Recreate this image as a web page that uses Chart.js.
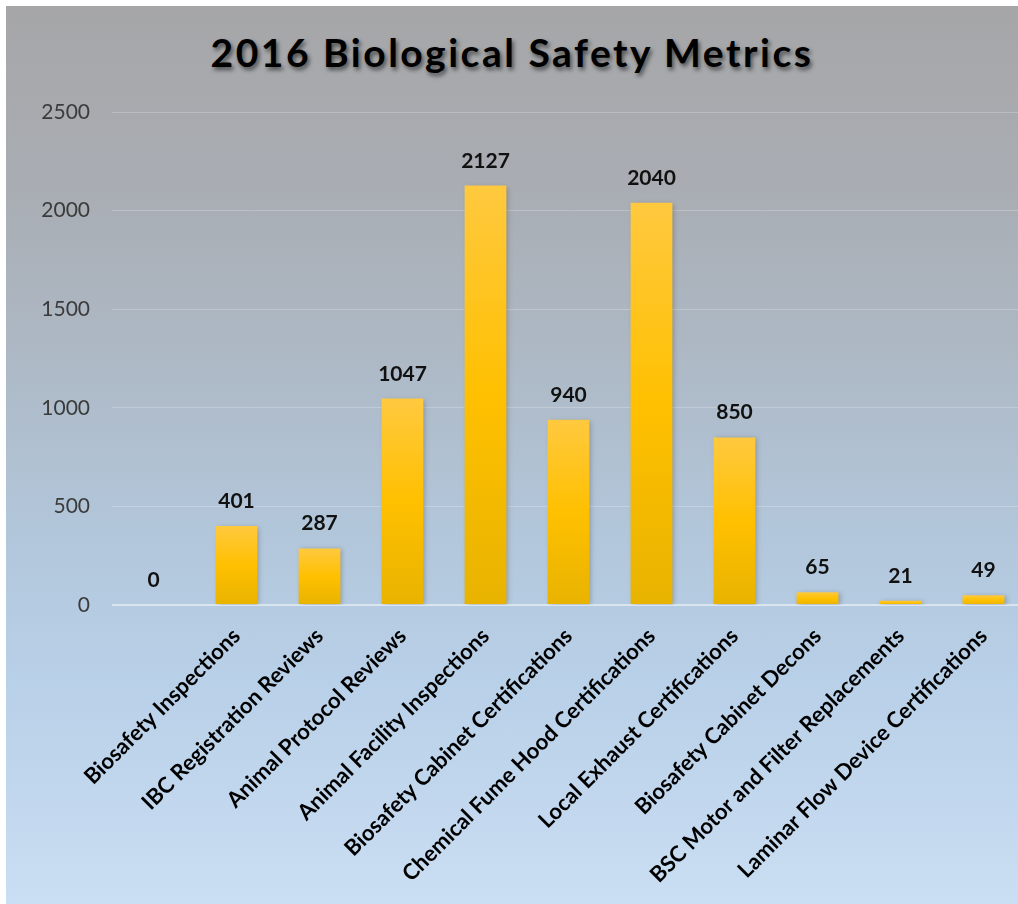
<!DOCTYPE html>
<html>
<head>
<meta charset="utf-8">
<script src="https://cdn.jsdelivr.net/npm/chart.js@4.4.0/dist/chart.umd.min.js"></script>
<style>
  html, body { margin: 0; padding: 0; background: #fff; }
  #wrap {
    position: absolute; left: 6px; top: 6px; width: 1012px; height: 898px;
    overflow: hidden;
    background: linear-gradient(to bottom, #a6a6a8 0%, #a9adb3 20%, #adb8c4 38%, #b2c6da 58%, #b8d0e8 75%, #c3d8ee 90%, #cadff3 100%);
  }
  #title {
    position: absolute; left: 0; width: 1012px; top: 23px;
    text-align: center; font-family: Lato, sans-serif; font-weight: bold;
    font-size: 39px; line-height: 46px; letter-spacing: 2.5px; color: #000;
    text-shadow: 2px 3px 4px rgba(0,0,0,0.55);
  }
  #box { position: absolute; left: 0; top: 0; width: 1030px; height: 898px; }
</style>
</head>
<body>
<div id="wrap">
  <div id="title">2016 Biological Safety Metrics</div>
  <div id="box"><canvas id="safetyChart"></canvas></div>
</div>
<script>
// Chart data
const categories = ['', 'Biosafety Inspections', 'IBC Registration Reviews', 'Animal Protocol Reviews',
  'Animal Facility Inspections', 'Biosafety Cabinet Certifications', 'Chemical Fume Hood Certifications',
  'Local Exhaust Certifications', 'Biosafety Cabinet Decons', 'BSC Motor and Filter Replacements',
  'Laminar Flow Device Certifications'];
const counts = [0, 401, 287, 1047, 2127, 940, 2040, 850, 65, 21, 49];
const yTicks = [0, 500, 1000, 1500, 2000, 2500];

// gold gradient per bar, from its top down to the baseline
function barFill(context) {
  const chart = context.chart;
  if (!chart.chartArea) return '#ffc000';
  const y = chart.scales.y;
  const top = y.getPixelForValue(context.raw);
  const base = y.getPixelForValue(0);
  if (base - top < 1) return '#ffc83a';
  const g = chart.ctx.createLinearGradient(0, top, 0, base);
  g.addColorStop(0, '#ffc93f');
  g.addColorStop(0.5, '#ffc000');
  g.addColorStop(1, '#e8b300');
  return g;
}

// small shadow behind the bars
const barShadow = {
  id: 'barShadow',
  beforeDatasetsDraw(chart) {
    const c = chart.ctx;
    c.save();
    c.shadowColor = 'rgba(60,60,60,0.35)';
    c.shadowBlur = 5;
    c.shadowOffsetX = 2;
    c.shadowOffsetY = 1;
  },
  afterDatasetsDraw(chart) {
    chart.ctx.restore();
  }
};

// value labels above bars
const valueLabels = {
  id: 'valueLabels',
  afterDatasetsDraw(chart) {
    const c = chart.ctx;
    const meta = chart.getDatasetMeta(0);
    c.save();
    c.font = 'bold 21px Lato, sans-serif';
    c.fillStyle = '#111';
    c.textAlign = 'center';
    c.textBaseline = 'alphabetic';
    meta.data.forEach((bar, i) => {
      c.fillText(String(counts[i]), bar.x, bar.y - 18);
    });
    c.restore();
  }
};

const ctx = document.getElementById('safetyChart').getContext('2d');
new Chart(ctx, {
  type: 'bar',
  data: {
    labels: categories,
    datasets: [{
      data: counts,
      backgroundColor: barFill,
      borderWidth: 0,
      barPercentage: 0.503,
      categoryPercentage: 1.0
    }]
  },
  options: {
    responsive: true,
    maintainAspectRatio: false,
    animation: false,
    layout: { padding: { left: 0, right: 11, top: 106, bottom: 0 } },
    plugins: {
      legend: { display: false },
      tooltip: { enabled: false }
    },
    scales: {
      y: {
        min: 0,
        max: 2500,
        afterBuildTicks: s => { s.ticks = yTicks.map(v => ({ value: v })); },
        afterFit: s => { s.width = 106; },
        border: { display: false },
        grid: {
          drawTicks: false,
          color: c => c.tick.value === 0 ? '#dbe5ef' : 'rgba(255,255,255,0.22)',
          lineWidth: c => c.tick.value === 0 ? 2 : 1
        },
        ticks: {
          padding: 22,
          color: '#3b3b3b',
          font: { family: 'Lato, sans-serif', size: 21 },
          callback: v => String(v)
        }
      },
      x: {
        afterFit: s => { s.height = 299; },
        border: { display: false },
        grid: { display: false },
        ticks: {
          autoSkip: false,
          minRotation: 45,
          maxRotation: 45,
          padding: 10,
          color: '#000',
          font: { family: 'Lato, sans-serif', size: 22, weight: 'bold' }
        }
      }
    }
  },
  plugins: [barShadow, valueLabels]
});
</script>
</body>
</html>
